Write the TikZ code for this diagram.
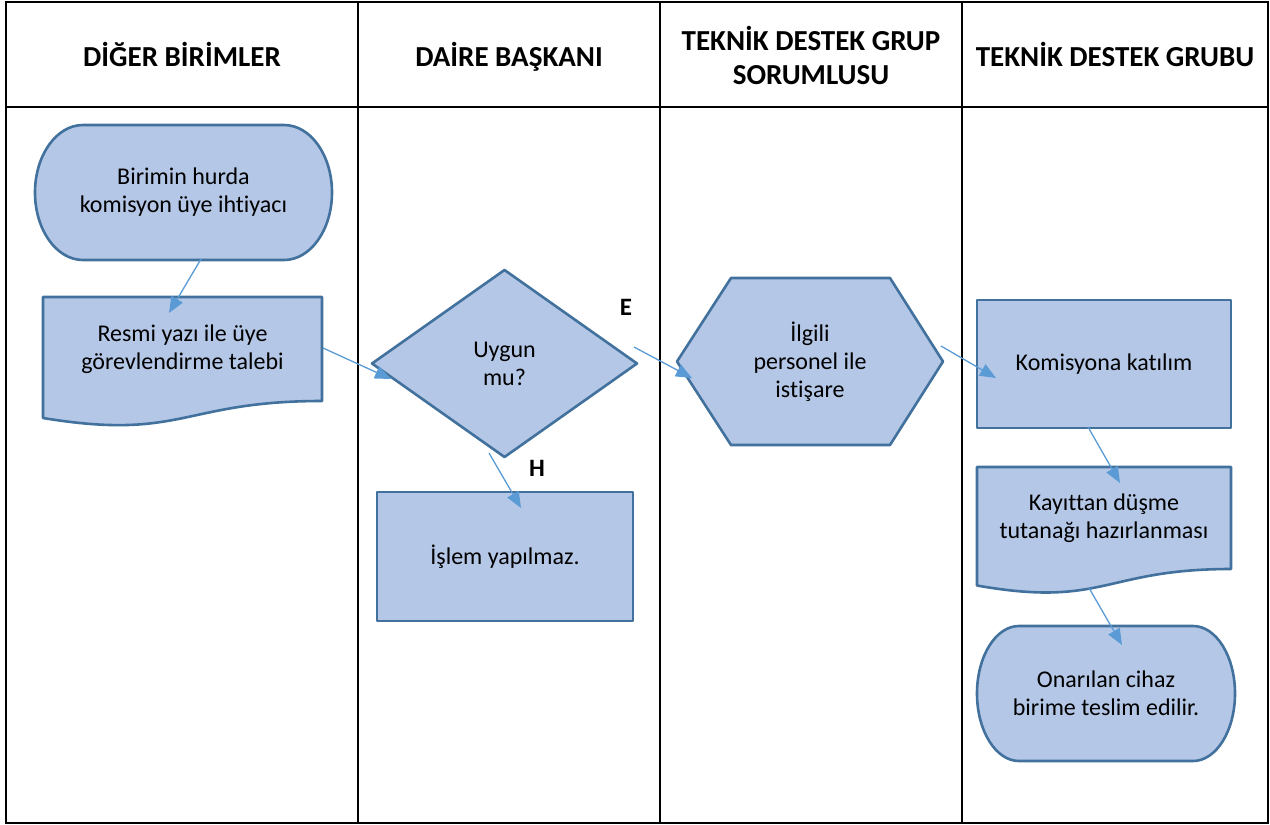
\documentclass[tikz,border=0pt]{standalone}
\usepackage{fontspec}
\setmainfont{Carlito}[RawFeature={-liga;-clig;-calt;-dlig}]
\usetikzlibrary{shapes.geometric,arrows.meta,calc,backgrounds}

\definecolor{boxfill}{HTML}{B4C7E7}
\definecolor{boxline}{HTML}{41719C}
\definecolor{flow}{HTML}{5B9BD5}

\tikzset{
  grid/.style={line width=2pt, draw=black},
  head/.style={font=\fontsize{29}{34}\selectfont\bfseries, align=center, inner sep=0pt},
  txt/.style={font=\fontsize{24}{28}\selectfont, align=center, inner sep=0pt, outer sep=0pt},
  outline/.style={fill=boxfill, draw=boxline, line width=2.6pt, line join=round},
  flowarrow/.style={draw=flow, line width=1.3pt, -{Triangle[length=16pt,width=13pt]}},
  lbl/.style={font=\fontsize{25}{28}\selectfont\bfseries, inner sep=0pt}
}

\begin{document}
\begin{tikzpicture}[x=1pt,y=-1pt]
\useasboundingbox (0,0) rectangle (1270,825);

% swimlane table
\draw[grid] (6,2) rectangle (1268,823);
\draw[grid] (6,107) -- (1268,107);
\draw[grid] (358,2) -- (358,823);
\draw[grid] (660,2) -- (660,823);
\draw[grid] (962,2) -- (962,823);

% lane headings
\node[head, anchor=base] (h1) at (182,66) {DİĞER BİRİMLER};
\node[head, anchor=base] (h2) at (509,66) {DAİRE BAŞKANI};
\node[head] (h3) at (811,55) {TEKNİK DESTEK GRUP\\SORUMLUSU};
\node[head, anchor=base] (h4) at (1115,66) {TEKNİK DESTEK GRUBU};

% process steps
\node[txt, minimum width=297pt, minimum height=135pt] (start) at (183.5,192.5) {Birimin hurda\\komisyon üye ihtiyacı};
\node[txt, minimum width=279pt, minimum height=104pt] (req) at (182.5,349) {Resmi yazı ile üye\\görevlendirme talebi};
\node[txt, outline, shape=diamond, minimum width=265pt, minimum height=187pt] (dec) at (504.5,363.5) {Uygun\\mu?};
\node[txt, outline, minimum width=256pt, minimum height=129pt] (reject) at (505,556.5) {İşlem yapılmaz.};
\node[txt, minimum width=266pt, minimum height=167pt] (consult) at (810,361.5) {İlgili\\personel ile\\istişare};
\node[txt, outline, minimum width=254pt, minimum height=128pt] (join) at (1104,364) {Komisyona katılım};
\node[txt, minimum width=254pt, minimum height=102pt] (report) at (1104,518) {Kayıttan düşme\\tutanağı hazırlanması};
\node[txt, minimum width=258pt, minimum height=135pt] (finish) at (1106,693.5) {Onarılan cihaz\\birime teslim edilir.};

% outlines of the terminator, document and preparation shapes
\begin{scope}[on background layer]
  \draw[outline] ($(start.north west)+(48,0)$) -- ($(start.north east)+(-48,0)$)
    arc[start angle=-90,end angle=90,x radius=48,y radius=67.5]
    -- ($(start.south west)+(48,0)$)
    arc[start angle=90,end angle=270,x radius=48,y radius=67.5] -- cycle;
  \draw[outline] ($(finish.north west)+(42,0)$) -- ($(finish.north east)+(-42,0)$)
    arc[start angle=-90,end angle=90,x radius=42,y radius=67.5]
    -- ($(finish.south west)+(42,0)$)
    arc[start angle=90,end angle=270,x radius=42,y radius=67.5] -- cycle;
  \draw[outline] (req.north west) -- (req.north east) -- (req.south east)
    .. controls (req.south) and ($(req.south)+(0,40)$) .. ($(req.south west)+(0,17)$) -- cycle;
  \draw[outline] (report.north west) -- (report.north east) -- (report.south east)
    .. controls (report.south) and ($(report.south)+(0,39)$) .. ($(report.south west)+(0,16.5)$) -- cycle;
  \draw[outline] (consult.west) -- ($(consult.north west)+(54,0)$) -- ($(consult.north east)+(-53,0)$)
    -- (consult.east) -- ($(consult.south east)+(-53,0)$) -- ($(consult.south west)+(54,0)$) -- cycle;
\end{scope}

% decision labels
\node[lbl] (yes) at (626,307) {E};
\node[lbl] (no) at (537,468) {H};

% flow
\draw[flowarrow] ($(start.south)+(17.5,-1)$) -- ($(req.north)+(-13.5,16)$);
\draw[flowarrow] ($(req.east)+(1,-1)$) -- ($(dec.west)+(19,15.5)$);
\draw[flowarrow] ($(dec.east)+(-3,-16.5)$) -- ($(consult.west)+(15,16.5)$);
\draw[flowarrow] ($(dec.south)+(-15.5,-4)$) -- ($(reject.north)+(16,16)$);
\draw[flowarrow] ($(consult.east)+(-2,-15.5)$) -- ($(join.west)+(19,14)$);
\draw[flowarrow] ($(join.south)+(-16,-1)$) -- ($(report.north)+(16,16)$);
\draw[flowarrow] ($(report.south)+(-15,19)$) -- ($(finish.north)+(16,19)$);
\end{tikzpicture}
\end{document}
